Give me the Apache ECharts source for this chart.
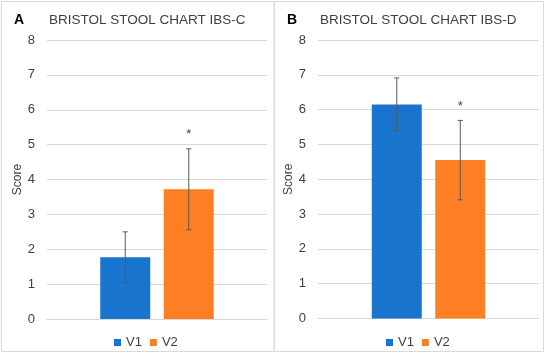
<!DOCTYPE html>
<html><head><meta charset="utf-8">
<script src="https://cdn.jsdelivr.net/npm/echarts@6/dist/echarts.min.js"></script>
<style>html,body{margin:0;padding:0;background:#fff}#c{width:550px;height:357px}</style>
</head><body><div id="c"></div>
<script>
const panelLetters = ['A', 'B'];
const panelTitles = ['BRISTOL STOOL CHART IBS-C', 'BRISTOL STOOL CHART IBS-D'];
const seriesNames = ['V1', 'V2'];
const yTicks = [0, 1, 2, 3, 4, 5, 6, 7, 8];
// per panel: [V1, V2]
const meanC = [1.77, 3.72];
const errC = [0.73, 1.16];
const meanD = [6.15, 4.55];
const errD = [0.76, 1.14];
const starC = [null, 5.37];
const starD = [null, 6.17];

const colors = ['#1874CD', '#FD7F23'];
const BW = 50, GAP = 0.27;
const FONT = 'Liberation Sans';

const chart = echarts.init(document.getElementById('c'));
const panels = [{mean: meanC, err: errC, star: starC}, {mean: meanD, err: errD, star: starD}];

const grids = [
  {left: 47, right: 283, top: 40, bottom: 38},
  {left: 318, right: 11, top: 40, bottom: 38.5}
];
const xAxes = grids.map((g, i) => ({
  type: 'category', gridIndex: i, data: ['x'],
  axisLabel: {show: false}, axisTick: {show: false},
  axisLine: {lineStyle: {color: '#d9d9d9'}}
}));
const yAxes = grids.map((g, i) => ({
  type: 'value', gridIndex: i, min: yTicks[0], max: yTicks[yTicks.length - 1], interval: 1,
  name: 'Score', nameLocation: 'middle', nameGap: 21,
  nameTextStyle: {color: '#404040', fontSize: 12, fontFamily: FONT},
  axisLabel: {color: '#404040', fontSize: 13, fontFamily: FONT, margin: 12},
  splitLine: {lineStyle: {color: '#d9d9d9'}},
  axisLine: {show: false}, axisTick: {show: false}
}));

const series = [];
panels.forEach((p, pi) => {
  seriesNames.forEach((n, si) => {
    series.push({
      type: 'bar', name: n, xAxisIndex: pi, yAxisIndex: pi,
      data: [p.mean[si]], barWidth: BW, barGap: (GAP * 100) + '%',
      itemStyle: {color: colors[si]}
    });
  });
  const errData = seriesNames.map((n, si) => [0, p.mean[si] - p.err[si], p.mean[si] + p.err[si], si, p.star[si]]);
  series.push({
    type: 'custom', xAxisIndex: pi, yAxisIndex: pi, z: 10, silent: true,
    data: errData,
    renderItem: function (params, api) {
      const si = api.value(3);
      const lo = api.coord([0, api.value(1)]);
      const hi = api.coord([0, api.value(2)]);
      const off = (si === 0 ? -1 : 1) * (BW + BW * GAP) / 2;
      const x = lo[0] + off;
      const cap = 2.5;
      const st = {stroke: '#595959', lineWidth: 1};
      const children = [
        {type: 'line', shape: {x1: x, y1: lo[1], x2: x, y2: hi[1]}, style: st},
        {type: 'line', shape: {x1: x - cap, y1: lo[1], x2: x + cap, y2: lo[1]}, style: st},
        {type: 'line', shape: {x1: x - cap, y1: hi[1], x2: x + cap, y2: hi[1]}, style: st}
      ];
      const sv = api.value(4);
      if (sv != null && !isNaN(sv)) {
        const sp = api.coord([0, sv]);
        children.push({type: 'text', style: {text: '*', x: x, y: sp[1] + 3, align: 'center', verticalAlign: 'middle', fill: '#404040', font: '13px ' + FONT}});
      }
      return {type: 'group', children: children};
    }
  });
});

const legendBase = {data: seriesNames, top: 331, itemWidth: 7, itemHeight: 7, itemGap: 8, icon: 'rect',
  textStyle: {color: '#404040', fontSize: 13, fontFamily: FONT}};

chart.setOption({
  animation: false,
  grid: grids,
  xAxis: xAxes,
  yAxis: yAxes,
  legend: [
    Object.assign({left: 109}, legendBase),
    Object.assign({left: 381}, legendBase)
  ],
  title: [
    {text: panelLetters[0], left: 9, top: 8, textStyle: {color: '#000', fontSize: 14, fontWeight: 'bold', fontFamily: FONT}},
    {text: panelTitles[0], left: 44, top: 8, textStyle: {color: '#404040', fontSize: 13.5, fontWeight: 'normal', fontFamily: FONT}},
    {text: panelLetters[1], left: 282, top: 8, textStyle: {color: '#000', fontSize: 14, fontWeight: 'bold', fontFamily: FONT}},
    {text: panelTitles[1], left: 315, top: 8, textStyle: {color: '#404040', fontSize: 13.5, fontWeight: 'normal', fontFamily: FONT}}
  ],
  graphic: [
    {type: 'rect', shape: {x: 1.5, y: 1.5, width: 272.5, height: 350}, style: {fill: 'none', stroke: '#d9d9d9', lineWidth: 1}, silent: true},
    {type: 'rect', shape: {x: 274.5, y: 1.5, width: 269, height: 350}, style: {fill: 'none', stroke: '#d9d9d9', lineWidth: 1}, silent: true}
  ],
  series: series
});
</script></body></html>
